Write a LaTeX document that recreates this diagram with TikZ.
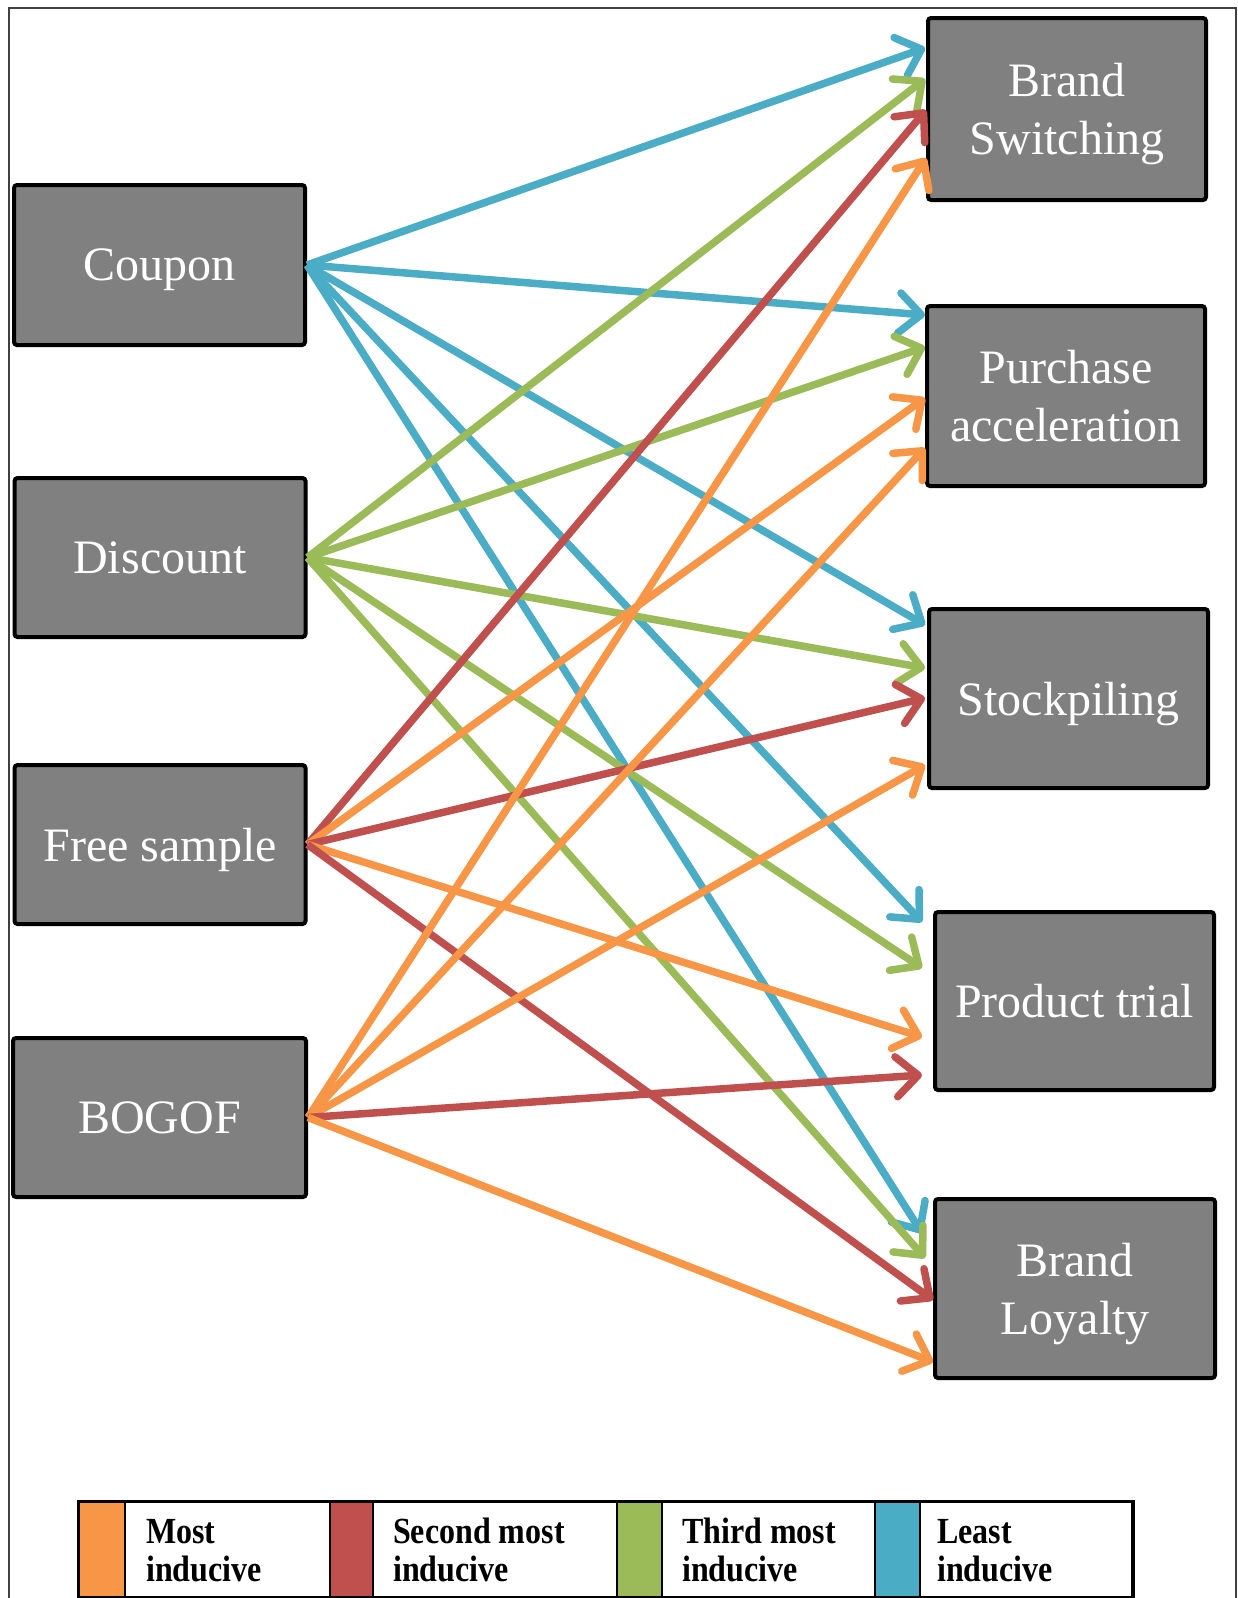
\documentclass[tikz,border=0pt]{standalone}
\usepackage{fontspec}
\setmainfont{Liberation Serif}
\usetikzlibrary{arrows.meta,calc}
\definecolor{cOrange}{HTML}{F79646}
\definecolor{cRed}{HTML}{C0504D}
\definecolor{cGreen}{HTML}{9BBB59}
\definecolor{cBlue}{HTML}{4BACC6}
\definecolor{boxgray}{HTML}{808080}
\definecolor{framegray}{HTML}{404040}
\begin{document}
\begin{tikzpicture}[x=1pt,y=-1pt,
  box/.style={draw=black, line width=4pt, fill=boxgray, rounded corners=3pt,
    text=white, font=\fontsize{48}{58}\selectfont, align=center, inner sep=0pt, text depth=0pt},
  lbox/.style={box, minimum width=291pt, minimum height=159pt},
  rbox/.style={box, minimum width=279pt, minimum height=180pt},
  link/.style={line width=7.5pt, -{Straight Barb[length=22pt,width=40pt,round]}},
  blueL/.style={link, draw=cBlue},
  greenL/.style={link, draw=cGreen},
  redL/.style={link, draw=cRed},
  orangeL/.style={link, draw=cOrange},
  strip/.style={draw=black, line width=1.5pt, inner sep=0pt, minimum height=95pt},
  legtext/.style={font=\bfseries\fontsize{32}{33}\selectfont, inner sep=0pt, anchor=west, text=black}
]
\useasboundingbox (0,0) rectangle (1238,1598);
\fill[white] (0,0) rectangle (1238,1598);
% outer frame
\draw[framegray, line width=1.5pt] (9,1600) -- (9,8) -- (1236,8) -- (1236,1600);

% left boxes
\node[lbox, minimum height=160pt] (coupon) at (159.5,265) {Coupon};
\node[lbox] (discount) at (160,557.5) {Discount};
\node[lbox] (free) at (160,844.5) {Free sample};
\node[lbox, minimum width=293pt] (bogof) at (159.5,1117.5) {BOGOF};

% right boxes
\node[rbox, minimum width=278pt, minimum height=182pt] (bs) at (1067,109) {Brand\\Switching};
\node[rbox, minimum width=278pt] (pa) at (1066,396) {Purchase\\acceleration};
\node[rbox, minimum height=179pt] (sp) at (1068.5,698.5) {Stockpiling};
\node[rbox, minimum height=178pt] (pt) at (1074.5,1001) {Product trial};
\node[rbox, minimum width=280pt, minimum height=179pt] (bl) at (1075,1288.5) {Brand\\Loyalty};

% Coupon (least inducive)
\draw[blueL] (coupon.east) -- ($(bs.north west)+(-1,32)$);
\draw[blueL] (coupon.east) -- ($(pa.north west)+(0,11)$);
\draw[blueL] (coupon.east) -- ($(sp.north west)+(-2,18)$);
\draw[blueL] (coupon.east) -- ($(pt.north west)+(-11,12)$);
\draw[blueL] (coupon.east) -- ($(bl.north west)+(-11,36)$);

% Discount (third most inducive)
\draw[greenL] (discount.east) -- ($(bs.north west)+(-1,63)$);
\draw[greenL] (discount.east) -- ($(pa.north west)+(0,43)$);
\draw[greenL] (discount.east) -- ($(sp.north west)+(-2,61)$);
\draw[greenL] (discount.east) -- ($(pt.north west)+(-11,58)$);
\draw[greenL] (discount.east) -- ($(bl.north west)+(-8,61)$);

% Free sample
\draw[redL] (free.east) -- ($(bs.north west)+(0,94)$);
\draw[orangeL] (free.east) -- ($(pa.north west)+(0,94)$);
\draw[redL] (free.east) -- ($(sp.north west)+(-2,91)$);
\draw[orangeL] (free.east) -- ($(pt.north west)+(-11,127)$);
\draw[redL] (free.east) -- ($(bl.north west)+(0,103)$);

% BOGOF
\draw[orangeL] (bogof.east) -- ($(bs.north west)+(0,142)$);
\draw[orangeL] (bogof.east) -- ($(pa.north west)+(0,144)$);
\draw[orangeL] (bogof.east) -- ($(sp.north west)+(-2,158)$);
\draw[redL] (bogof.east) -- ($(pt.north west)+(-11,165)$);
\draw[orangeL] (bogof.east) -- ($(bl.north west)+(0,165)$);

% legend
\node[strip, fill=cOrange, minimum width=46pt] (s1) at (102,1549.5) {};
\node[strip, fill=white, minimum width=205pt] (t1) at (227.5,1549.5) {};
\node[strip, fill=cRed, minimum width=43pt] (s2) at (351.5,1549.5) {};
\node[strip, fill=white, minimum width=244pt] (t2) at (495,1549.5) {};
\node[strip, fill=cGreen, minimum width=45pt] (s3) at (639.5,1549.5) {};
\node[strip, fill=white, minimum width=213pt] (t3) at (768.5,1549.5) {};
\node[strip, fill=cBlue, minimum width=45pt] (s4) at (897.5,1549.5) {};
\node[strip, fill=white, minimum width=212pt] (t4) at (1026,1549.5) {};
\draw[black, line width=3.5pt] (s1.north west) rectangle (t4.south east);

\node[legtext] (m1) at (146,1555) {\scalebox{1}[1.15]{\begin{tabular}{@{}l@{}}Most\\inducive\end{tabular}}};
\node[legtext] (m2) at (393,1555) {\scalebox{1}[1.15]{\begin{tabular}{@{}l@{}}Second most\\inducive\end{tabular}}};
\node[legtext] (m3) at (682,1555) {\scalebox{1}[1.15]{\begin{tabular}{@{}l@{}}Third most\\inducive\end{tabular}}};
\node[legtext] (m4) at (937,1555) {\scalebox{1}[1.15]{\begin{tabular}{@{}l@{}}Least\\inducive\end{tabular}}};
\end{tikzpicture}
\end{document}
